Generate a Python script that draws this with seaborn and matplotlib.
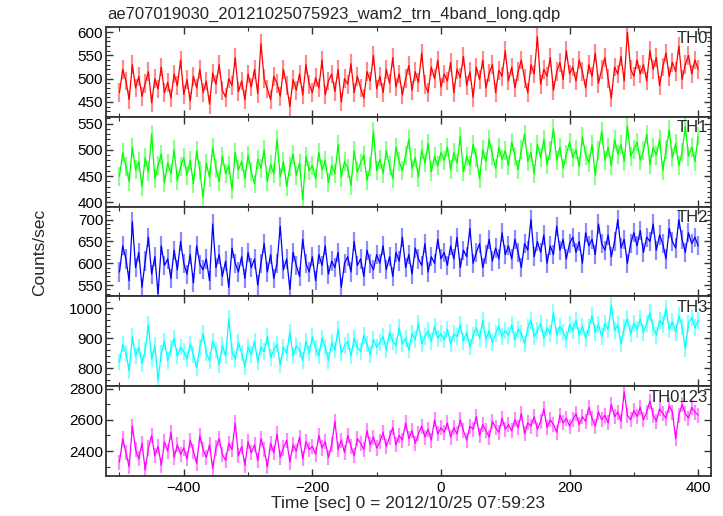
import matplotlib
matplotlib.use("Agg")
import matplotlib.pyplot as plt
import seaborn as sns
import numpy as np
import pandas as pd
from matplotlib.ticker import MultipleLocator

# time bins (5 s) from -500 to 400 sec
time_sec = np.arange(-500, 401, 5)

th0 = [470, 520, 495, 455, 530, 480, 505, 462, 490, 515, 448, 500, 478, 525, 470, 492, 458, 510, 485, 540, 466,
       498, 452, 505, 480, 520, 470, 495, 445, 512, 488, 530, 475, 460, 500, 485, 545, 472, 495, 455, 510,
       482, 520, 468, 575, 500, 478, 455, 505, 490, 462, 520, 485, 440, 498, 475, 510, 465, 530, 488, 470,
       502, 480, 540, 465, 495, 510, 472, 520, 450, 500, 488, 532, 470, 505, 480, 458, 515, 495, 550, 478,
       505, 470, 520, 490, 545, 482, 510, 465, 500, 528, 475, 515, 492, 555, 488, 470, 525, 500, 540, 482,
       510, 495, 535, 470, 520, 502, 548, 485, 515, 460, 525, 498, 540, 480, 512, 530, 470, 518, 505, 560,
       495, 525, 480, 515, 540, 500, 470, 530, 510, 590, 488, 520, 505, 545, 475, 515, 535, 498, 560, 510,
       525, 495, 540, 515, 480, 530, 505, 555, 490, 520, 545, 500, 458, 525, 510, 548, 495, 600, 520, 505,
       540, 510, 530, 495, 560, 520, 545, 485, 525, 555, 505, 535, 515, 570, 498, 530, 550, 510, 540, 520]

th1 = [450, 495, 468, 440, 505, 462, 478, 430, 485, 458, 530, 445, 470, 492, 438, 475, 455, 500, 442, 468, 485,
       452, 480, 435, 498, 460, 410, 475, 448, 505, 465, 440, 488, 455, 470, 425, 495, 462, 478, 445, 490,
       458, 435, 482, 465, 500, 440, 472, 455, 520, 448, 478, 430, 468, 492, 452, 475, 405, 488, 460, 470,
       445, 495, 462, 480, 438, 470, 455, 510, 448, 478, 465, 432, 498, 458, 475, 490, 442, 468, 535, 460,
       482, 455, 498, 470, 445, 505, 478, 460, 490, 520, 465, 485, 448, 500, 475, 512, 458, 488, 470, 495,
       480, 505, 462, 495, 475, 525, 458, 488, 470, 510, 485, 445, 500, 478, 520, 490, 465, 505, 482, 498,
       470, 515, 488, 462, 500, 530, 478, 495, 455, 510, 485, 520, 472, 498, 540, 480, 505, 465, 492, 515,
       485, 500, 468, 525, 490, 475, 510, 452, 498, 535, 480, 505, 470, 520, 492, 510, 478, 545, 488, 500,
       515, 480, 498, 530, 472, 505, 490, 520, 460, 500, 538, 485, 512, 470, 495, 545, 488, 505, 478, 525]

th2 = [580, 640, 610, 560, 695, 590, 625, 545, 605, 660, 575, 615, 530, 640, 595, 610, 565, 630, 585, 650, 600,
       575, 620, 555, 640, 598, 585, 610, 560, 690, 590, 620, 570, 605, 545, 635, 600, 580, 615, 565, 625,
       590, 610, 550, 600, 645, 580, 620, 565, 600, 685, 585, 610, 540, 625, 595, 570, 655, 600, 580, 615,
       560, 620, 595, 640, 575, 605, 590, 625, 545, 600, 615, 580, 650, 595, 610, 570, 630, 600, 585, 620,
       600, 640, 585, 615, 570, 625, 605, 660, 590, 620, 575, 635, 610, 595, 645, 580, 615, 600, 655, 610,
       625, 595, 640, 610, 660, 590, 630, 615, 680, 600, 625, 645, 590, 620, 655, 605, 635, 610, 670, 620,
       640, 610, 655, 625, 590, 645, 630, 700, 615, 650, 625, 665, 600, 640, 620, 685, 630, 655, 610, 645,
       660, 625, 650, 600, 670, 640, 655, 620, 690, 645, 630, 665, 615, 650, 700, 635, 655, 600, 645, 670,
       640, 675, 625, 660, 650, 690, 630, 665, 645, 610, 680, 650, 635, 700, 655, 625, 670, 645, 660, 640]

th3 = [820, 880, 850, 790, 905, 840, 870, 815, 860, 945, 830, 875, 760, 850, 890, 825, 865, 900, 840, 870, 855,
       830, 880, 845, 800, 870, 915, 850, 825, 890, 860, 810, 875, 840, 965, 855, 830, 885, 850, 805, 870,
       845, 890, 820, 870, 855, 905, 835, 860, 880, 810, 870, 850, 920, 840, 875, 860, 825, 890, 850, 905,
       865, 840, 900, 870, 825, 885, 860, 930, 850, 875, 890, 840, 900, 870, 855, 910, 880, 845, 895, 870,
       885, 905, 860, 920, 890, 875, 935, 880, 900, 860, 915, 895, 950, 880, 905, 925, 890, 940, 900, 915,
       895, 930, 880, 915, 905, 945, 890, 920, 870, 910, 935, 900, 960, 895, 925, 885, 915, 940, 905, 925,
       910, 945, 895, 930, 915, 880, 935, 960, 905, 925, 950, 900, 935, 915, 985, 910, 940, 920, 895, 945,
       925, 960, 910, 940, 900, 935, 975, 920, 945, 905, 950, 930, 1010, 925, 945, 880, 935, 965, 915, 950,
       930, 965, 920, 950, 985, 935, 910, 960, 945, 1000, 930, 955, 920, 975, 940, 865, 950, 970, 935, 960]

th0123 = [2330, 2480, 2390, 2300, 2560, 2410, 2350, 2450, 2280, 2420, 2500, 2370, 2430, 2310, 2460, 2400, 2520, 2360, 2440, 2380, 2420,
          2350, 2470, 2400, 2320, 2500, 2410, 2360, 2440, 2290, 2420, 2480, 2380, 2340, 2450, 2410, 2580, 2370, 2430, 2310, 2460,
          2390, 2440, 2340, 2480, 2410, 2300, 2450, 2390, 2510, 2360, 2420, 2470, 2330, 2440, 2400, 2490, 2350, 2460, 2410, 2430,
          2380, 2500, 2420, 2460, 2360, 2440, 2590, 2410, 2470, 2390, 2500, 2430, 2370, 2480, 2450, 2410, 2530, 2440, 2490, 2420,
          2460, 2520, 2430, 2490, 2550, 2440, 2500, 2470, 2580, 2480, 2530, 2450, 2510, 2560, 2490, 2540, 2470, 2600, 2510, 2550,
          2520, 2580, 2490, 2550, 2510, 2600, 2530, 2470, 2560, 2540, 2620, 2500, 2570, 2530, 2490, 2590, 2550, 2520, 2610, 2540,
          2570, 2530, 2600, 2550, 2640, 2510, 2580, 2560, 2620, 2540, 2590, 2670, 2550, 2600, 2570, 2520, 2630, 2580, 2610, 2560,
          2600, 2640, 2570, 2620, 2590, 2680, 2610, 2560, 2650, 2600, 2630, 2580, 2700, 2620, 2650, 2590, 2780, 2630, 2600, 2660,
          2620, 2680, 2600, 2650, 2720, 2630, 2590, 2670, 2640, 2610, 2690, 2650, 2480, 2630, 2700, 2640, 2610, 2680, 2650, 2630]

bands = ["TH0", "TH1", "TH2", "TH3", "TH0123"]
band_errors = [20, 18, 22, 28, 48]

colors = ["#ff0000", "#00ff00", "#0000ff", "#00ffff", "#ff00ff"]
ylims = [(418, 611), (392, 563), (524, 730), (739, 1040), (2241, 2815)]
ymajor = [50, 50, 50, 100, 200]
yminor = [10, 10, 10, 20, 100]

sns.set_style("ticks")
plt.rcParams['font.family'] = ['Liberation Sans', 'DejaVu Sans']

fig, axes = plt.subplots(5, 1, figsize=(7.23, 5.16), dpi=100, sharex=True)
fig.subplots_adjust(left=0.1466, right=0.9834, top=0.9477, bottom=0.0775, hspace=0)

series = [th0, th1, th2, th3, th0123]
for i, ax in enumerate(axes):
    df = pd.DataFrame({"time": time_sec, "rate": series[i]})
    # error bars in a lighter tint of the band colour
    ax.errorbar(df["time"], df["rate"], yerr=band_errors[i], fmt='none',
                ecolor=colors[i], alpha=0.45, elinewidth=1.6)
    sns.lineplot(data=df, x="time", y="rate", ax=ax, color=colors[i], linewidth=0.9)
    ax.set_ylim(*ylims[i])
    ax.set_xlim(-521, 420)
    ax.yaxis.set_major_locator(MultipleLocator(ymajor[i]))
    ax.yaxis.set_minor_locator(MultipleLocator(yminor[i]))
    ax.xaxis.set_major_locator(MultipleLocator(200))
    ax.xaxis.set_minor_locator(MultipleLocator(100))
    ax.tick_params(which='both', direction='in', top=True, right=True, labelsize=11,
                   colors='#333333', labelcolor='black')
    ax.tick_params(which='major', length=5, width=1)
    ax.tick_params(which='minor', length=3, width=0.8)
    ax.tick_params(axis='y', pad=2)
    ax.set_xlabel("")
    ax.set_ylabel("")
    for sp in ax.spines.values():
        sp.set_linewidth(1.3)
        sp.set_color('#333333')
    ax.text(0.995, 0.96, bands[i], transform=ax.transAxes, ha='right', va='top', fontsize=12)

axes[-1].set_xlabel("Time [sec] 0 = 2012/10/25 07:59:23", fontsize=12.5, labelpad=1)
fig.text(0.055, 0.51, "Counts/sec", rotation=90, ha='center', va='center', fontsize=12.5)
fig.text(0.148, 0.973, "ae707019030_20121025075923_wam2_trn_4band_long.qdp", ha='left', va='center', fontsize=12)

plt.savefig("out.png", dpi=100)
